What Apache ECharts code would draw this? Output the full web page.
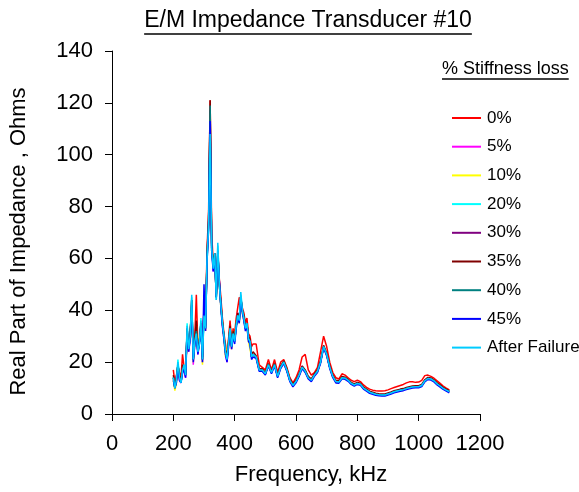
<!DOCTYPE html>
<html>
<head>
<meta charset="utf-8">
<script src="https://cdn.jsdelivr.net/npm/echarts/dist/echarts.min.js"></script>
<style>
  html, body { margin: 0; padding: 0; background: #ffffff; }
  #chart { width: 579px; height: 492px; }
</style>
</head>
<body>
<div id="chart"></div>
<script>
// Frequency sweep (kHz): 5 kHz steps through the resonance band, 10 kHz above it
const freq = [
  200,205,210,215,220,225,230,235,240,245,250,255,260,265,270,275,280,285,290,295,
  300,305,310,315,320,325,330,335,340,345,350,355,360,365,370,375,380,385,390,395,
  400,405,410,415,420,425,430,435,440,445,450,455,460,
  470,480,490,500,510,520,530,540,550,560,570,580,590,600,610,620,630,640,650,660,
  670,680,690,700,710,720,730,740,750,760,770,780,790,800,810,820,830,840,850,860,
  870,880,890,900,910,920,930,940,950,960,970,980,990,1000,1010,1020,1030,1040,1050,1060,
  1070,1080,1090,1100
];

// Real part of impedance (Ohms) for each stiffness-loss state
const loss0 = [
  17,12,15,18,16,14,23,18,17,30,27,32,38,24,30,46,26,29,33,23,
  42,35,64,78,121,70,58,60,46,60,52,45,37,31,27,23,29,36,28,33,
  31,37,41,45,44,41,39,35,37,31,30,26,27,
  27,19,18,17,21,17,21,16,20,21,18,14,12,14,17,22,23,17,15,16,
  18,24,30,26,20,16,14,13.5,15.5,15,14,13,12.5,13,12.5,11.2,10.3,9.6,9.2,9,
  8.9,8.9,9,9.3,9.8,10.2,10.6,11,11.4,12,12.4,12.4,12.2,12.3,13,14.8,15,14.5,13.8,12.8,
  11.8,10.8,10,9.3
];
const loss5 = [
  13,11,14,19,13,12,18,18,14,33,24,29,44,19,27,33,23,28,35,20,
  40,32,61,74,114,66,55,61,45,63,51,42,34,29,23,20,26,33,25,31,
  29,34,39,36,45,40,36,33,34,29,28,22,23,
  22,17.5,16.5,15.5,19,16.5,19,14.5,18,20,17,13,11,12.5,15,18.5,16.5,14,13,15,
  16.5,20.5,26,23,18,14.5,12.5,12.3,14,13.8,13,11.8,11.2,11.8,11.4,10,9.2,8.4,8,7.6,
  7.4,7.2,7.2,7.6,8.1,8.6,8.9,9.2,9.4,9.8,10.1,10.4,10.5,10.5,11,12.7,13.7,13.5,12.8,11.6,
  10.8,9.9,9.2,8.6
];
const loss10 = [
  13,9,12,19,15,13,17,18,15,32,26,31,44,20,27,34,25,30,35,19,
  42,32,61,73,116,65,57,60,45,62,50,41,35,29,22,22,28,32,25,32,
  29,35,38,35,44,39,36,33,34,28,28,22,23,
  22,17.5,17,15.5,19,16,19,14.5,18,19.5,17,13,11,12.5,15,18,16.5,14,13,15,
  16.5,20,26,22.5,18,14.5,12.5,12.3,14,13.8,13,11.8,11.2,11.8,11.5,10,9.2,8.4,8,7.6,
  7.4,7.3,7.3,7.6,8.1,8.6,8.9,9.2,9.4,9.8,10.1,10.4,10.5,10.5,11,12.8,13.6,13.5,12.8,11.6,
  10.8,9.9,9.2,8.6
];
const loss20 = [
  14,11,13,21,14,12,16,19,15,35,25,30,45,21,28,31,24,27,37,21,
  37,33,59,72,110,63,56,62,44,65,50,42,35,30,24,21,27,33,26,31,
  28,34,38,36,46,40,37,33,35,29,28,22,23,
  22,17,17,15.5,19,16,19,14.5,18,20,17,13,11,12.5,15,18,16.5,14,13,15,
  16.5,20,25.8,23,18,14.5,12.5,12.3,14,13.8,13,11.8,11.2,11.8,11.5,10,9.2,8.4,8,7.6,
  7.4,7.3,7.3,7.7,8.1,8.6,8.9,9.2,9.4,9.8,10.1,10.4,10.5,10.5,11,12.8,13.7,13.5,12.8,11.6,
  10.8,9.9,9.2,8.6
];
const loss30 = [
  14,10,13,19,14,13,17,18,15,33,25,30,44,21,28,31,24,28,35,21,
  40,33,60,73,117,64,57,62,46,63,50,42,35,30,24,21,27,33,26,31,
  28,34,38,36,45,40,37,33,35,29,28,22,23,
  22,17,17,15.5,19,16,19,14.5,18,20,17,13,11,12.5,15,18,16.5,14,13,15,
  16.5,20,26,23,18,14.5,12.5,12.3,14,13.8,13,11.8,11.2,11.8,11.5,10,9.2,8.4,8,7.6,
  7.3,7.2,7.2,7.6,8.1,8.6,8.9,9.2,9.4,9.8,10.1,10.4,10.5,10.5,11,12.8,13.7,13.5,12.8,11.6,
  10.8,9.9,9.2,8.6
];
const loss35 = [
  15,11,14,19,15,13,19,18,16,32,26,31,42,22,29,36,25,28,34,22,
  41,34,62,75,121,66,57,62,45,62,51,43,36,30,25,22,28,34,27,32,
  29,35,39,37,45,40,38,34,35,30,29,23,24,
  22.5,17.5,17.5,16,19.5,16.5,19.5,15,18.5,20.5,17.5,13.5,11.5,13,15.5,18.5,17,14.5,13.5,15.5,
  17,20.5,26.5,23.5,18.5,15,13,12.8,14.5,14.2,13.4,12.2,11.6,12.2,11.9,10.4,9.6,8.8,8.4,8,
  7.8,7.7,7.7,8.1,8.5,9,9.3,9.6,9.8,10.2,10.5,10.8,10.9,10.9,11.4,13.2,14.1,13.9,13.2,12,
  11.2,10.3,9.6,9
];
const loss40 = [
  14,10,13,19,14,12,17,18,15,33,25,30,44,21,28,32,24,28,35,21,
  41,33,61,74,119,65,56,62,45,63,50,42,35,30,24,21,27,33,26,31,
  28,34,38,36,45,40,37,33,35,29,28,22,23,
  22,17,17,15.5,19,16,19,14.5,18,20,17,13,11,12.5,15,18,16.5,14,13,15,
  16.5,20,26,23,18,14.5,12.5,12.3,14,13.8,13,11.8,11.2,11.8,11.5,10,9.2,8.4,8,7.6,
  7.4,7.3,7.3,7.7,8.1,8.6,8.9,9.2,9.4,9.8,10.1,10.4,10.5,10.5,11,12.8,13.7,13.5,12.8,11.6,
  10.8,9.9,9.2,8.6
];
const loss45 = [
  13,10,12,18,13,12,16,17,14,31,24,29,42,20,27,30,23,27,34,20,
  50,32,59,71,113,63,55,60,45,62,62,41,34,29,23,20,26,32,25,30,
  27,33,37,35,44,39,36,32,34,28,27,21,22,
  21.5,16.5,16.5,15,18.5,15.5,18.5,14,17.5,19.5,16.5,12.5,10.5,12,14.5,17.5,16,13.5,12.5,14.5,
  16,19.5,25.5,22.5,17.5,14,12,11.9,13.6,13.4,12.6,11.4,10.8,11.4,11.1,9.6,8.8,8,7.6,7.2,
  7,6.9,6.9,7.3,7.7,8.2,8.5,8.8,9,9.4,9.7,10,10.1,10.1,10.6,12.4,13.3,13.1,12.4,11.2,
  10.4,9.5,8.8,8.2
];
const lossAfter = [
  14,10,13,20,14,12,17,19,15,34,25,30,46,21,28,31,24,27,36,21,
  38,33,60,72,108,64,56,62,44,66,50,42,35,30,24,21,27,33,26,31,
  28,34,38,36,47,40,37,33,35,29,28,22,23,
  22,17,17,15.5,19,16,19,14.5,18,20,17,13,11,12.5,15,18,16.5,14,13,15,
  16.5,20,26,23,18,14.5,12.5,12.3,14,13.8,13,11.8,11.2,11.8,11.5,10,9.2,8.4,8,7.6,
  7.4,7.3,7.3,7.7,8.1,8.6,8.9,9.2,9.4,9.8,10.1,10.4,10.5,10.5,11,12.8,13.7,13.5,12.8,11.6,
  10.8,9.9,9.2,8.6
];

const seriesNames = ['0%', '5%', '10%', '20%', '30%', '35%', '40%', '45%', 'After Failure'];
const seriesValues = [loss0, loss5, loss10, loss20, loss30, loss35, loss40, loss45, lossAfter];
const seriesColors = ['#FF0000', '#FF00FF', '#FFFF00', '#00FFFF', '#800080', '#800000', '#008080', '#0000FF', '#00CCFF'];

const xTicks = { min: 0, max: 1200, step: 200 };
const yTicks = { min: 0, max: 140, step: 20 };

const FONT = '"Liberation Sans", Arial, sans-serif';
const titleText = 'E/M Impedance Transducer #10';
const legendTitleText = '% Stiffness loss';

function textWidth(str, size) {
  const ctx = document.createElement('canvas').getContext('2d');
  ctx.font = size + 'px ' + FONT;
  return ctx.measureText(str).width;
}

const titleSize = 23;
const titleW = textWidth(titleText, titleSize);
const titleCx = 308;
const titleLeft = titleCx - titleW / 2;
const titleTop = 9;

const legTitleSize = 18;
const legTitleW = textWidth(legendTitleText, legTitleSize);
const legTitleLeft = 442;
const legTitleTop = 60;

const chart = echarts.init(document.getElementById('chart'), null, { renderer: 'canvas' });

chart.setOption({
  animation: false,
  backgroundColor: '#ffffff',
  textStyle: { fontFamily: FONT },
  title: [
    {
      text: titleText,
      left: titleLeft,
      top: titleTop,
      padding: 0,
      textStyle: { fontSize: titleSize, fontWeight: 'normal', color: '#000', fontFamily: FONT }
    },
    {
      text: legendTitleText,
      left: legTitleLeft,
      top: legTitleTop,
      padding: 0,
      textStyle: { fontSize: legTitleSize, fontWeight: 'normal', color: '#000', fontFamily: FONT }
    }
  ],
  graphic: [
    {
      type: 'line',
      shape: { x1: titleLeft, y1: titleTop + 25, x2: titleLeft + titleW, y2: titleTop + 25 },
      style: { stroke: '#000', lineWidth: 1.5 },
      silent: true
    },
    {
      type: 'line',
      shape: { x1: legTitleLeft, y1: legTitleTop + 19, x2: legTitleLeft + legTitleW, y2: legTitleTop + 19 },
      style: { stroke: '#000', lineWidth: 1.5 },
      silent: true
    }
  ],
  legend: {
    orient: 'vertical',
    left: 452,
    top: 109.5,
    itemWidth: 29,
    itemHeight: 2,
    itemGap: 11.7,
    icon: 'rect',
    padding: 0,
    selectedMode: false,
    textStyle: { fontSize: 17, lineHeight: 17, color: '#000', fontFamily: FONT, padding: [0, 0, 0, 1] },
    data: seriesNames
  },
  grid: { left: 109, right: 99, top: 51, bottom: 78, containLabel: false },
  xAxis: {
    type: 'value',
    min: xTicks.min,
    max: xTicks.max,
    interval: xTicks.step,
    name: 'Frequency, kHz',
    nameLocation: 'middle',
    nameGap: 50,
    nameTextStyle: { fontSize: 22, color: '#000', fontFamily: FONT, padding: [0, 0, 0, 30] },
    axisLine: { show: true, onZero: false, lineStyle: { color: '#000', width: 1 } },
    axisTick: { show: true, length: 7, inside: false, lineStyle: { color: '#000' } },
    axisLabel: { fontSize: 22, color: '#000', margin: 19, fontFamily: FONT, formatter: (v) => String(v) },
    splitLine: { show: false }
  },
  yAxis: {
    type: 'value',
    min: yTicks.min,
    max: yTicks.max,
    interval: yTicks.step,
    name: 'Real Part of Impedance , Ohms',
    nameLocation: 'middle',
    nameGap: 82,
    nameRotate: 90,
    nameTextStyle: { fontSize: 22, color: '#000', fontFamily: FONT, padding: [0, 18, 0, 0] },
    axisLine: { show: true, onZero: false, lineStyle: { color: '#000', width: 1 } },
    axisTick: { show: true, length: 7, inside: false, lineStyle: { color: '#000' } },
    axisLabel: { fontSize: 22, color: '#000', margin: 19, fontFamily: FONT, formatter: (v) => String(v) },
    splitLine: { show: false }
  },
  series: seriesNames.map((name, k) => ({
    name: name,
    type: 'line',
    data: freq.map((f, i) => [f, seriesValues[k][i]]),
    showSymbol: false,
    symbol: 'none',
    color: seriesColors[k],
    lineStyle: { width: 1.5, color: seriesColors[k] },
    z: 2 + k
  }))
});
</script>
</body>
</html>
